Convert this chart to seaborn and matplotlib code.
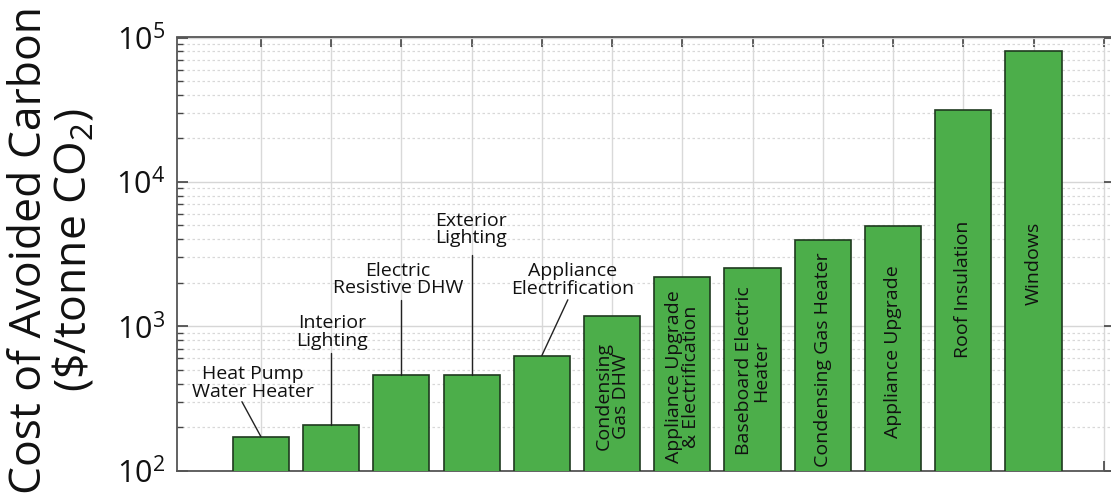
import numpy as np
import matplotlib
matplotlib.use("Agg")
import matplotlib.pyplot as plt
import seaborn as sns
from matplotlib.ticker import LogLocator, NullFormatter, FixedLocator

# Measures and their cost of avoided carbon ($/tonne CO2)
measures = [
    "Heat Pump Water Heater", "Interior Lighting", "Electric Resistive DHW",
    "Exterior Lighting", "Appliance Electrification", "Condensing Gas DHW",
    "Appliance Upgrade & Electrification", "Baseboard Electric Heater",
    "Condensing Gas Heater", "Appliance Upgrade", "Roof Insulation", "Windows",
]
cost = [172, 207, 462, 462, 626, 1180, 2200, 2520, 3940, 4970, 31500, 80400]

# Labels written above the short bars (with leader lines)
outside_labels = ["Heat Pump\nWater Heater", "Interior\nLighting",
                  "Electric\nResistive DHW", "Exterior\nLighting",
                  "Appliance\nElectrification"]
# Labels written vertically inside the tall bars
inside_labels = ["Condensing\nGas DHW", "Appliance Upgrade\n& Electrification",
                 "Baseboard Electric\nHeater", "Condensing Gas Heater",
                 "Appliance Upgrade", "Roof Insulation", "Windows"]

sns.set_theme(style="white")
plt.rcParams["font.family"] = ["Open Sans", "DejaVu Sans"]
plt.rcParams["mathtext.fontset"] = "custom"
plt.rcParams["mathtext.rm"] = "Open Sans"
plt.rcParams["mathtext.it"] = "Open Sans"
plt.rcParams["mathtext.default"] = "regular"

W, H = 1111, 498
fig = plt.figure(figsize=(W / 100, H / 100), dpi=100)
ax = fig.add_axes([177.3 / W, 1 - 470.6 / H, (1115 - 177.3) / W, (470.6 - 37.5) / H])

bar_color = "#4cae4a"
edge_color = "#1f3a1f"
pos = np.arange(len(measures))
sns.barplot(x=pos, y=cost, color=bar_color, saturation=1, width=0.8,
            edgecolor=edge_color, linewidth=1.2, ax=ax, native_scale=True,
            zorder=3)

ax.set_yscale("log")
ax.set_ylim(100, 1e5)
ax.set_xlim(-1.19, 12.16)

# Ticks and grid
ax.xaxis.set_major_locator(FixedLocator(np.arange(0, 13)))
ax.set_xticklabels([])
ax.yaxis.set_major_locator(LogLocator(base=10, numticks=10))
ax.yaxis.set_minor_locator(LogLocator(base=10, subs=np.arange(2, 10), numticks=20))
ax.yaxis.set_minor_formatter(NullFormatter())
ax.tick_params(axis="x", which="major", direction="in", length=7, width=1.2,
               top=True, bottom=True, color="#444444")
ax.tick_params(axis="y", which="major", direction="in", length=8, width=1.2,
               left=True, right=True, color="#444444", labelsize=22, pad=9,
               labelcolor="#111111")
ax.tick_params(axis="y", which="minor", direction="in", length=4, width=1.0,
               left=True, right=False, color="#444444")
ax.grid(True, axis="x", which="major", color="#d9d9d9", linewidth=1.0, zorder=0)
ax.grid(True, axis="y", which="major", color="#d6d6d6", linewidth=1.0, zorder=0)
ax.grid(True, axis="y", which="minor", color="#d8d8d8", linewidth=0.9,
        linestyle=(0, (2, 2)), zorder=0)
ax.set_axisbelow(True)
for side in ["left", "top", "bottom", "right"]:
    ax.spines[side].set_visible(True)
    ax.spines[side].set_color("#555555")
    ax.spines[side].set_linewidth(1.3)
ax.set_xlabel("")
ax.set_ylabel("")

# Leader-line labels for the first five bars
text_pos = [(-0.11, 405), (1.01, 914), (1.95, 2113), (2.99, 4670), (4.44, 2086)]
line_end = [(-0.27, 300), (1.0, 654), (2.0, 1524), (3.0, 3126), (4.37, 1524)]
for i, lab in enumerate(outside_labels):
    tx, ty = text_pos[i]
    ex, ey = line_end[i]
    ax.plot([pos[i], ex], [cost[i], ey], color="#222222", linewidth=1.0, zorder=4)
    ax.text(tx, ty, lab, ha="center", va="center", fontsize=14,
            linespacing=0.95, color="#111111", zorder=5)

# Vertical labels inside the remaining bars
inside_y = [329, 446, 491, 585, 664, 1816, 2704]
for j, lab in enumerate(inside_labels):
    i = j + len(outside_labels)
    ax.text(pos[i], inside_y[j], lab, rotation=90, ha="center", va="center",
            fontsize=14, linespacing=0.95, color="#111111", zorder=5)

fig.text(52 / W, 1 - 250 / H, "Cost of Avoided Carbon\n(\\$/tonne CO$_2$)",
         rotation=90, ha="center", va="center", fontsize=32, linespacing=1.0,
         multialignment="center", color="#111111")

fig.savefig("out.png", dpi=100, facecolor="white")
